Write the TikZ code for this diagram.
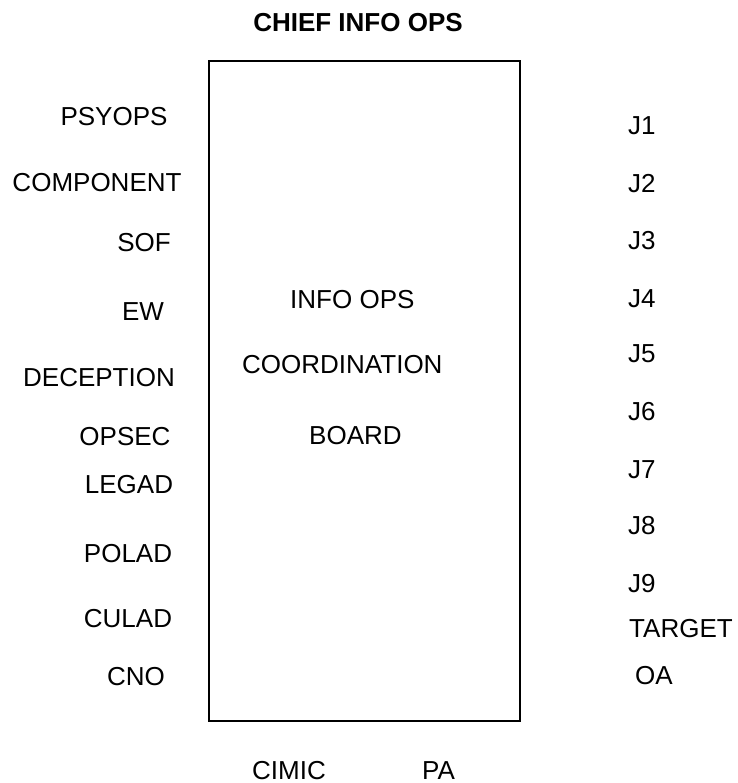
\documentclass[tikz,border=0pt]{standalone}
\usepackage{fontspec}
\setmainfont{Liberation Sans}
\begin{document}
\begin{tikzpicture}[x=1pt,y=-1pt,
  lbl/.style={inner sep=0pt,font=\fontsize{26}{30}\selectfont},
  ttl/.style={inner sep=0pt,font=\fontsize{26}{30}\selectfont\bfseries},
  board/.style={draw=black,line width=1.5pt}]
\useasboundingbox (0,0) rectangle (737,783);
% title
\node[ttl,anchor=base] (title) at (358,32) {CHIEF INFO OPS};
% box
\draw[board] (209,61) rectangle (520,721);
\coordinate (box) at (364,391);
% centre text
\node[lbl,anchor=base west] (c1) at (290,308) {INFO OPS};
\node[lbl,anchor=base west] (c2) at (242,373) {COORDINATION};
\node[lbl,anchor=base west] (c3) at (309,444) {BOARD};
% left labels
\node[lbl,anchor=base] (l1) at (114,126) {PSYOPS};
\node[lbl,anchor=base] (l2) at (97,192) {COMPONENT};
\node[lbl,anchor=base] (l3) at (144,252) {SOF};
\node[lbl,anchor=base] (l4) at (143,320) {EW};
\node[lbl,anchor=base] (l5) at (99,386) {DECEPTION};
\node[lbl,anchor=base] (l6) at (125,445) {OPSEC};
\node[lbl,anchor=base] (l7) at (129,493) {LEGAD};
\node[lbl,anchor=base] (l8) at (128,562) {POLAD};
\node[lbl,anchor=base] (l9) at (128,627) {CULAD};
\node[lbl,anchor=base] (l10) at (136,685) {CNO};
% right labels
\node[lbl,anchor=base west] (r1) at (628,135) {J1};
\node[lbl,anchor=base west] (r2) at (628,193) {J2};
\node[lbl,anchor=base west] (r3) at (628,250) {J3};
\node[lbl,anchor=base west] (r4) at (628,307) {J4};
\node[lbl,anchor=base west] (r5) at (628,362) {J5};
\node[lbl,anchor=base west] (r6) at (628,420) {J6};
\node[lbl,anchor=base west] (r7) at (628,478) {J7};
\node[lbl,anchor=base west] (r8) at (628,534) {J8};
\node[lbl,anchor=base west] (r9) at (628,592) {J9};
\node[lbl,anchor=base west] (r10) at (629,637) {TARGET};
\node[lbl,anchor=base west] (r11) at (635,684) {OA};
% bottom labels
\node[lbl,anchor=base west] (b1) at (252,779) {CIMIC};
\node[lbl,anchor=base west] (b2) at (422,779) {PA};
\end{tikzpicture}
\end{document}
